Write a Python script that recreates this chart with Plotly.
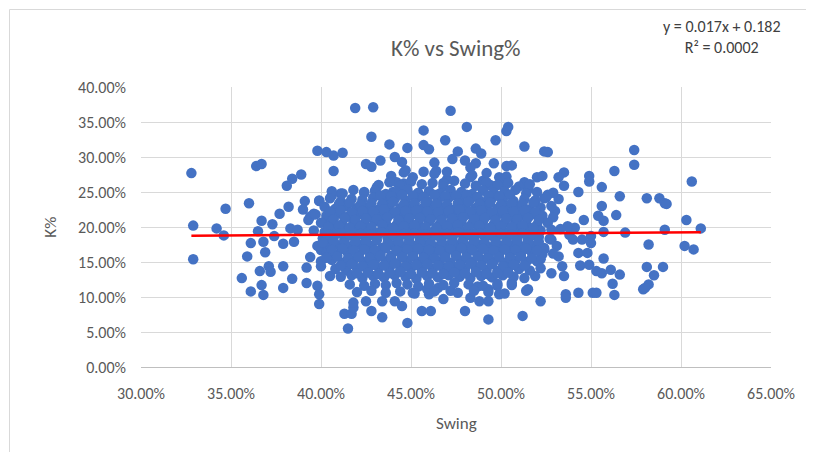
import plotly.graph_objects as go

# trendline shown by excel
slope = 0.017
intercept = 0.182
eq_text = "y = 0.017x + 0.182<br>R² = 0.0002"

# outer points (swing %, k %)
outer_swing = [32.8, 32.9, 32.9, 34.2, 34.6, 34.7, 36.0, 36.4, 36.7, 35.6, 35.9, 36.1, 36.1, 36.7,
               36.8, 36.7, 36.5, 36.8, 36.9, 37.3, 36.6, 37.1, 37.2, 37.4, 37.7, 37.9, 37.9, 37.9,
               38.2, 38.3, 38.1, 38.4, 38.9, 38.4, 38.5, 39.1, 39.0, 39.2, 39.2, 39.4, 39.4, 39.9,
               39.8, 40.3, 40.7, 40.0, 40.0, 39.9, 39.8, 40.6, 40.3, 40.5, 40.5, 39.3, 39.6, 38.7,
               41.9, 42.9, 42.8, 43.8, 44.8, 45.7, 45.7, 40.7, 41.2, 42.5, 42.8, 43.3, 44.1, 44.5,
               44.7, 44.2, 44.6, 44.0, 45.7, 43.1, 43.5, 42.4, 41.1, 45.4,
               41.5, 41.3, 41.7, 43.4, 44.8, 44.5, 45.6, 39.9, 41.8, 41.8, 42.5, 42.8, 43.4, 44.1,
               45.1, 46.1, 46.0, 46.8, 47.2, 48.0, 48.3, 48.8, 49.3, 49.3, 49.3, 49.9, 51.2, 51.4,
               52.2, 53.6, 53.6, 54.3, 55.1, 55.3, 56.3, 57.9, 49.8, 51.5, 50.6, 45.9, 46.5, 47.5,
               48.7, 51.9,
               47.2, 48.1, 50.4, 50.3, 49.7, 46.9, 51.3, 48.6, 46.0, 52.4, 47.6, 47.3, 48.9, 48.0,
               48.6, 48.3, 49.6, 50.3, 50.6, 46.3, 46.4, 47.0, 46.8, 48.3, 49.0, 49.4, 49.9, 50.1,
               51.3, 51.5, 52.0, 52.3, 52.4, 50.9, 51.4, 52.4, 52.2,
               57.4, 57.4, 56.3, 54.9, 54.9, 53.5, 53.2, 53.5, 52.6, 54.3, 55.6, 56.6, 58.1, 58.8,
               59.1, 55.6, 56.4, 55.4, 55.7, 53.9, 54.6, 53.2, 52.9, 53.0, 54.1, 53.8, 55.0, 55.0,
               55.7, 56.9, 59.1, 58.2, 55.7, 54.3, 54.8, 54.4, 54.9, 55.3, 55.6, 56.1, 56.6, 56.2,
               58.1, 58.5, 58.2, 58.0, 59.0, 53.2, 53.4, 53.5, 52.8, 53.7, 53.3, 52.8, 53.1, 54.0,
               54.5,
               60.6, 59.2, 60.3, 61.1, 60.2, 60.7]
outer_k = [27.7, 20.2, 15.4, 19.8, 18.8, 22.6, 23.4, 28.7, 29.0, 12.7, 15.8, 17.7, 10.8, 11.7,
           10.3, 20.9, 19.4, 17.9, 16.4, 20.4, 13.7, 14.4, 13.6, 18.7, 21.9, 14.4, 11.3, 17.6,
           22.9, 19.8, 25.9, 26.9, 27.5, 12.6, 17.9, 23.7, 22.5, 14.2, 12.0, 15.7, 21.5, 23.7,
           30.9, 30.7, 28.0, 16.7, 14.4, 9.0, 11.6, 24.5, 21.0, 17.9, 13.0, 21.0, 21.9, 19.6,
           37.0, 37.1, 32.9, 31.8, 31.3, 33.8, 31.7, 30.2, 30.6, 29.0, 28.6, 29.5, 30.0, 29.3,
           28.1, 26.4, 26.2, 25.0, 27.9, 25.7, 24.5, 25.0, 24.8, 24.5,
           5.5, 7.6, 7.6, 7.1, 6.3, 8.7, 8.0, 10.4, 8.5, 9.2, 9.4, 8.0, 9.4, 9.4,
           10.6, 8.0, 10.4, 9.7, 10.9, 8.0, 9.9, 9.4, 11.1, 9.4, 6.8, 10.4, 7.3, 10.9,
           9.4, 10.4, 9.9, 10.6, 10.6, 10.6, 10.3, 11.1, 11.6, 11.1, 12.0, 11.1, 11.3, 13.9,
           11.5, 13.0,
           36.6, 34.3, 34.3, 33.7, 32.4, 32.4, 31.5, 31.2, 31.1, 30.8, 30.8, 29.7, 30.5, 29.5,
           29.1, 28.5, 29.1, 28.7, 28.8, 29.2, 28.0, 26.8, 26.3, 27.1, 26.6, 26.0, 27.1, 26.4,
           26.4, 25.4, 27.1, 27.3, 24.1, 16.8, 17.0, 16.8, 15.4,
           31.0, 28.9, 28.0, 27.3, 26.5, 27.8, 27.1, 25.9, 30.7, 25.0, 25.7, 24.4, 24.1, 24.1,
           23.4, 23.0, 21.7, 21.6, 20.9, 22.6, 21.0, 24.0, 24.9, 22.3, 19.9, 18.9, 18.7, 17.7,
           19.3, 19.2, 19.6, 17.5, 15.5, 16.3, 16.3, 14.5, 14.6, 13.7, 13.4, 13.9, 13.2, 11.9,
           14.3, 13.1, 11.8, 11.3, 14.3, 15.8, 14.4, 13.0, 13.4, 20.1, 19.7, 18.2, 17.3, 18.2,
           18.2,
           26.5, 23.3, 21.0, 19.8, 17.3, 16.8]

# dense middle of the cloud, row by row from top to bottom
core_swing = [43.9, 44.6, 45.1, 46.3, 47.0, 48.4, 49.2, 50.3,
              43.2, 43.8, 44.4, 45.0, 45.6, 46.2, 46.8, 47.4, 48.0, 48.6, 49.2, 49.8, 50.4, 51.0, 51.6,
              40.6, 41.2, 41.8, 42.4, 43.0, 43.6, 44.2, 44.8, 45.4, 46.0, 46.6, 47.2, 47.8, 48.4, 49.0,
              49.6, 50.2, 50.8, 51.4, 52.0, 52.6,
              39.9, 40.5, 41.1, 41.7, 42.3, 42.9, 43.5, 44.1, 44.7, 45.3, 45.9, 46.5, 47.1, 47.7, 48.3,
              48.9, 49.5, 50.1, 50.7, 51.3, 51.9, 52.5,
              40.2, 40.8, 41.4, 42.0, 42.6, 43.2, 43.8, 44.4, 45.0, 45.6, 46.2, 46.8, 47.4, 48.0, 48.6,
              49.2, 49.8, 50.4, 51.0, 51.6, 52.2, 52.8,
              39.7, 40.3, 40.9, 41.5, 42.1, 42.7, 43.3, 43.9, 44.5, 45.1, 45.7, 46.3, 46.9, 47.5, 48.1,
              48.7, 49.3, 49.9, 50.5, 51.1, 51.7, 52.3, 52.9,
              40.0, 40.6, 41.2, 41.8, 42.4, 43.0, 43.6, 44.2, 44.8, 45.4, 46.0, 46.6, 47.2, 47.8, 48.4,
              49.0, 49.6, 50.2, 50.8, 51.4, 52.0, 52.6,
              39.6, 40.2, 40.8, 41.4, 42.0, 42.6, 43.2, 43.8, 44.4, 45.0, 45.6, 46.2, 46.8, 47.4, 48.0,
              48.6, 49.2, 49.8, 50.4, 51.0, 51.6, 52.2, 52.8,
              40.1, 40.7, 41.3, 41.9, 42.5, 43.1, 43.7, 44.3, 44.9, 45.5, 46.1, 46.7, 47.3, 47.9, 48.5,
              49.1, 49.7, 50.3, 50.9, 51.5, 52.1, 52.7,
              39.8, 40.4, 41.0, 41.6, 42.2, 42.8, 43.4, 44.0, 44.6, 45.2, 45.8, 46.4, 47.0, 47.6, 48.2,
              48.8, 49.4, 50.0, 50.6, 51.2, 51.8, 52.4,
              40.3, 40.9, 41.5, 42.1, 42.7, 43.3, 43.9, 44.5, 45.1, 45.7, 46.3, 46.9, 47.5, 48.1, 48.7,
              49.3, 49.9, 50.5, 51.1, 51.7, 52.3, 52.9,
              40.0, 40.6, 41.2, 41.8, 42.4, 43.0, 43.6, 44.2, 44.8, 45.4, 46.0, 46.6, 47.2, 47.8, 48.4,
              49.0, 49.6, 50.2, 50.8, 51.4, 52.0,
              40.8, 41.4, 42.0, 42.6, 43.2, 43.8, 44.4, 45.0, 45.6, 46.2, 46.8, 47.4, 48.0, 48.6, 49.2,
              49.8, 50.4, 51.0, 51.6, 52.2,
              41.1, 41.7, 42.3, 42.9, 43.5, 44.1, 44.7, 45.3, 45.9, 46.5, 47.1, 47.7, 48.3, 48.9, 49.5,
              50.1, 50.7, 51.3,
              41.6, 42.4, 43.0, 43.6, 44.2, 44.8, 45.4, 46.0, 46.8, 47.4, 48.2, 49.0, 49.8, 50.6,
              42.0, 42.8, 43.6, 44.4, 45.2, 46.3, 47.6, 48.5, 49.3, 50.2]
core_k = [27.3, 27.8, 27.1, 27.6, 27.9, 27.4, 27.7, 27.2,
          26.0, 26.4, 25.9, 26.5, 26.1, 26.3, 25.8, 26.6, 26.2, 25.9, 26.4, 26.0, 26.3, 25.8, 26.1,
          25.1, 24.8, 25.3, 24.9, 25.2, 24.7, 25.0, 25.4, 24.9, 25.1, 24.8, 25.3, 25.0, 24.7, 25.2,
          24.9, 25.1, 25.3, 24.8, 25.0, 24.6,
          23.8, 24.1, 23.7, 24.0, 23.9, 24.2, 23.6, 24.0, 23.8, 24.1, 23.7, 23.9, 24.2, 23.8, 24.0,
          23.6, 24.1, 23.9, 23.7, 24.0, 23.8, 24.2,
          22.9, 22.6, 23.0, 22.7, 22.8, 22.5, 23.1, 22.7, 22.9, 22.6, 23.0, 22.8, 22.5, 22.9, 22.7,
          23.0, 22.6, 22.8, 22.9, 22.5, 22.8, 23.0,
          21.8, 21.6, 21.9, 21.5, 21.8, 21.7, 21.4, 21.9, 21.6, 21.8, 21.5, 21.7, 21.9, 21.6, 21.8,
          21.4, 21.7, 21.9, 21.5, 21.7, 21.8, 21.6, 21.4,
          20.6, 20.8, 20.4, 20.7, 20.5, 20.8, 20.6, 20.3, 20.7, 20.5, 20.8, 20.4, 20.6, 20.7, 20.5,
          20.8, 20.4, 20.6, 20.7, 20.5, 20.3, 20.6,
          19.5, 19.3, 19.6, 19.4, 19.7, 19.5, 19.2, 19.6, 19.4, 19.5, 19.7, 19.3, 19.5, 19.6, 19.4,
          19.2, 19.6, 19.5, 19.3, 19.7, 19.4, 19.5, 19.6,
          18.4, 18.6, 18.2, 18.5, 18.3, 18.6, 18.4, 18.2, 18.5, 18.3, 18.6, 18.4, 18.5, 18.2, 18.4,
          18.6, 18.3, 18.5, 18.4, 18.2, 18.6, 18.3,
          17.3, 17.1, 17.4, 17.2, 17.5, 17.3, 17.0, 17.4, 17.2, 17.3, 17.5, 17.1, 17.3, 17.4, 17.2,
          17.5, 17.1, 17.3, 17.4, 17.2, 17.3, 17.0,
          16.2, 16.0, 16.3, 16.1, 16.4, 16.2, 15.9, 16.3, 16.1, 16.2, 16.4, 16.0, 16.2, 16.3, 16.1,
          15.9, 16.3, 16.2, 16.0, 16.4, 16.1, 16.2,
          15.1, 15.3, 14.9, 15.2, 15.0, 15.3, 15.1, 14.8, 15.2, 15.0, 15.3, 15.1, 14.9, 15.2, 15.0,
          15.3, 15.1, 14.9, 15.2, 15.0, 15.1,
          14.0, 13.8, 14.1, 13.9, 14.2, 14.0, 13.7, 14.1, 13.9, 14.0, 14.2, 13.8, 14.0, 14.1, 13.9,
          13.7, 14.1, 14.0, 13.8, 14.1,
          12.9, 13.1, 12.7, 13.0, 12.8, 13.1, 12.9, 12.6, 13.0, 12.8, 13.1, 12.9, 12.7, 13.0, 12.8,
          13.1, 12.9, 12.7,
          11.8, 11.6, 11.9, 11.7, 12.0, 11.8, 11.5, 11.9, 11.7, 12.0, 11.8, 11.6, 11.9, 11.7,
          10.7, 10.9, 10.6, 10.8, 10.5, 10.8, 10.6, 10.9, 10.7, 10.5]

# extra points sitting between the core rows (the blob is solid there)
fill_swing = [43.3, 43.9, 44.5, 45.1, 45.7, 46.3, 46.9, 47.5, 48.1, 48.7, 49.3, 49.9, 50.5,
              41.0, 41.6, 42.2, 42.8, 43.4, 44.0, 44.6, 45.2, 45.8, 46.4, 47.0, 47.6, 48.2, 48.8,
              49.4, 50.0, 50.6, 51.2, 51.8,
              40.5, 41.1, 41.7, 42.3, 42.9, 43.5, 44.1, 44.7, 45.3, 45.9, 46.5, 47.1, 47.7, 48.3,
              48.9, 49.5, 50.1, 50.7, 51.3, 51.9,
              40.7, 41.3, 41.9, 42.5, 43.1, 43.7, 44.3, 44.9, 45.5, 46.1, 46.7, 47.3, 47.9, 48.5,
              49.1, 49.7, 50.3, 50.9, 51.5, 52.1,
              40.4, 41.0, 41.6, 42.2, 42.8, 43.4, 44.0, 44.6, 45.2, 45.8, 46.4, 47.0, 47.6, 48.2,
              48.8, 49.4, 50.0, 50.6, 51.2, 51.8,
              40.4, 41.0, 41.6, 42.2, 42.8, 43.4, 44.0, 44.6, 45.2, 45.8, 46.4, 47.0, 47.6, 48.2,
              48.8, 49.4, 50.0, 50.6, 51.2, 51.8,
              40.1, 40.7, 41.3, 41.9, 42.5, 43.1, 43.7, 44.3, 44.9, 45.5, 46.1, 46.7, 47.3, 47.9,
              48.5, 49.1, 49.7, 50.3, 50.9, 51.5, 52.1,
              40.6, 41.2, 41.8, 42.4, 43.0, 43.6, 44.2, 44.8, 45.4, 46.0, 46.6, 47.2, 47.8, 48.4,
              49.0, 49.6, 50.2, 50.8, 51.4, 52.0,
              40.3, 40.9, 41.5, 42.1, 42.7, 43.3, 43.9, 44.5, 45.1, 45.7, 46.3, 46.9, 47.5, 48.1,
              48.7, 49.3, 49.9, 50.5, 51.1, 51.7,
              41.1, 41.7, 42.3, 42.9, 43.5, 44.1, 44.7, 45.3, 45.9, 46.5, 47.1, 47.7, 48.3, 48.9,
              49.5, 50.1, 50.7, 51.3,
              42.0, 42.6, 43.2, 43.8, 44.4, 45.0, 45.6, 46.2, 46.8, 47.4, 48.0, 48.6, 49.2, 49.8, 50.4]
fill_k = [24.5, 24.4, 24.6, 24.5, 24.3, 24.6, 24.4, 24.5, 24.6, 24.3, 24.5, 24.4, 24.6,
          23.3, 23.5, 23.2, 23.4, 23.3, 23.6, 23.2, 23.4, 23.5, 23.3, 23.2, 23.4, 23.6, 23.3,
          23.5, 23.2, 23.4, 23.3, 23.5,
          22.2, 22.4, 22.1, 22.3, 22.2, 22.5, 22.1, 22.3, 22.4, 22.2, 22.1, 22.3, 22.5, 22.2,
          22.4, 22.1, 22.3, 22.2, 22.4, 22.1,
          21.1, 21.3, 21.0, 21.2, 21.1, 21.4, 21.0, 21.2, 21.3, 21.1, 21.0, 21.2, 21.4, 21.1,
          21.3, 21.0, 21.2, 21.1, 21.3, 21.0,
          20.0, 20.2, 19.9, 20.1, 20.0, 20.3, 19.9, 20.1, 20.2, 20.0, 19.9, 20.1, 20.3, 20.0,
          20.2, 19.9, 20.1, 20.0, 20.2, 19.9,
          18.9, 19.1, 18.8, 19.0, 18.9, 19.2, 18.8, 19.0, 19.1, 18.9, 18.8, 19.0, 19.2, 18.9,
          19.1, 18.8, 19.0, 18.9, 19.1, 18.8,
          17.8, 18.0, 17.7, 17.9, 17.8, 18.1, 17.7, 17.9, 18.0, 17.8, 17.7, 17.9, 18.1, 17.8,
          18.0, 17.7, 17.9, 17.8, 18.0, 17.7, 17.9,
          16.7, 16.9, 16.6, 16.8, 16.7, 17.0, 16.6, 16.8, 16.9, 16.7, 16.6, 16.8, 17.0, 16.7,
          16.9, 16.6, 16.8, 16.7, 16.9, 16.6,
          15.6, 15.8, 15.5, 15.7, 15.6, 15.9, 15.5, 15.7, 15.8, 15.6, 15.5, 15.7, 15.9, 15.6,
          15.8, 15.5, 15.7, 15.6, 15.8, 15.5,
          14.5, 14.7, 14.4, 14.6, 14.5, 14.8, 14.4, 14.6, 14.7, 14.5, 14.4, 14.6, 14.8, 14.5,
          14.7, 14.4, 14.6, 14.5,
          13.4, 13.5, 13.3, 13.4, 13.6, 13.3, 13.5, 13.4, 13.3, 13.5, 13.4, 13.6, 13.3, 13.4, 13.5]

swing = [v / 100 for v in outer_swing + core_swing + fill_swing]
k = [v / 100 for v in outer_k + core_k + fill_k]

grey = "#595959"
font_name = "Carlito, Lato, sans-serif"

fig = go.Figure()
fig.add_scatter(x=swing, y=k, mode="markers",
                marker=dict(color="#4472C4", size=10.5, line=dict(width=0)))

line_x = [min(swing), max(swing)]
line_y = [slope * v + intercept for v in line_x]
fig.add_scatter(x=line_x, y=line_y, mode="lines", line=dict(color="#FF0000", width=2.5))

fig.update_layout(
    width=814, height=452,
    margin=dict(l=133, r=51, t=79, b=93),
    paper_bgcolor="white", plot_bgcolor="white",
    showlegend=False,
    font=dict(family=font_name, color=grey, size=16),
    xaxis=dict(range=[0.30, 0.65], tick0=0.30, dtick=0.05, tickformat=".2%",
               showgrid=True, gridcolor="#d9d9d9", gridwidth=1, zeroline=False,
               showline=True, linecolor="#bfbfbf", linewidth=1, ticks="",
               ticklabelstandoff=12, tickfont=dict(size=16, color=grey)),
    yaxis=dict(range=[0, 0.40], tick0=0, dtick=0.05, tickformat=".2%",
               showgrid=True, gridcolor="#d9d9d9", gridwidth=1, zeroline=False,
               showline=False, ticks="", ticklabelstandoff=14,
               tickfont=dict(size=16, color=grey)),
)

fig.add_annotation(text="K% vs Swing%", xref="paper", yref="paper", x=0.5, y=1.139,
                   showarrow=False, font=dict(size=23, color=grey), xanchor="center", yanchor="middle")
fig.add_annotation(text=eq_text, xref="paper", yref="paper", x=0.922, y=1.177,
                   showarrow=False, font=dict(size=16, color="#404040"), align="center",
                   xanchor="center", yanchor="middle")
fig.add_annotation(text="Swing", xref="paper", yref="paper", x=0.5, y=-0.2,
                   showarrow=False, font=dict(size=17, color=grey), xanchor="center", yanchor="middle")
fig.add_annotation(text="K%", xref="paper", yref="paper", x=-0.145, y=0.5, textangle=-90,
                   showarrow=False, font=dict(size=17, color=grey), xanchor="center", yanchor="middle")

# light chart border like excel
fig.add_shape(type="rect", xref="paper", yref="paper",
              x0=-0.2087, x1=1.0786, y0=-0.3268, y1=1.2768,
              line=dict(color="#d9d9d9", width=1), fillcolor="rgba(0,0,0,0)", layer="below")

fig.write_html("out.html")
